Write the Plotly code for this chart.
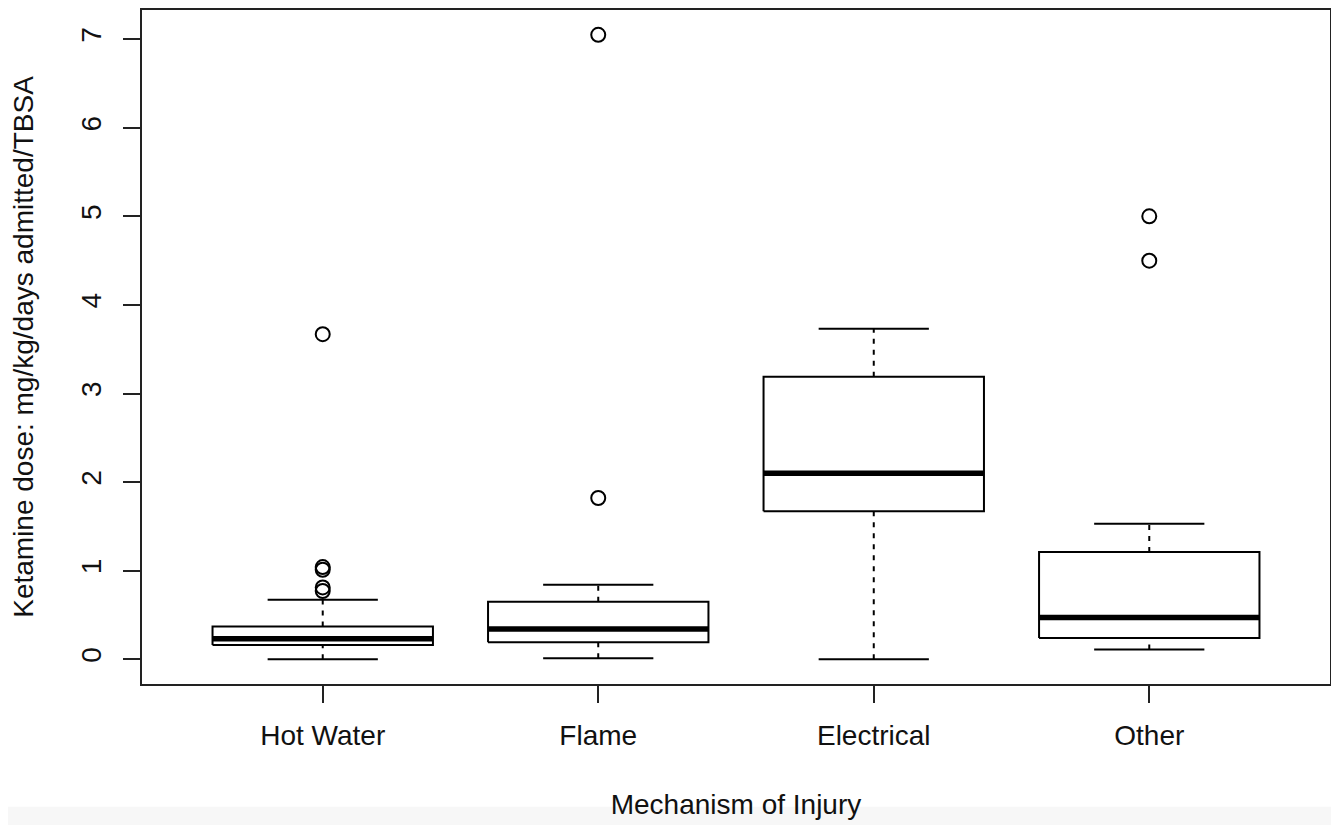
import plotly.graph_objects as go

categories = ["Hot Water", "Flame", "Electrical", "Other"]
lower_whisker = [0.0, 0.01, 0.0, 0.11]
q1 = [0.16, 0.19, 1.67, 0.24]
median = [0.23, 0.34, 2.10, 0.47]
q3 = [0.37, 0.65, 3.19, 1.21]
upper_whisker = [0.67, 0.84, 3.73, 1.53]
outliers = [[3.67, 1.04, 1.01, 0.81, 0.77], [7.05, 1.82], [], [5.0, 4.5]]

y_ticks = [0, 1, 2, 3, 4, 5, 6, 7]

BOX_HALF = 0.4
STAPLE_HALF = 0.2
positions = list(range(1, len(categories) + 1))

box_x, box_y = [], []
med_x, med_y = [], []
wh_x, wh_y = [], []
st_x, st_y = [], []
out_x, out_y = [], []
for p, lo, a, m, b, hi, outs in zip(positions, lower_whisker, q1, median, q3, upper_whisker, outliers):
    box_x += [p - BOX_HALF, p + BOX_HALF, p + BOX_HALF, p - BOX_HALF, p - BOX_HALF, None]
    box_y += [a, a, b, b, a, None]
    med_x += [p - BOX_HALF, p + BOX_HALF, None]
    med_y += [m, m, None]
    wh_x += [p, p, None, p, p, None]
    wh_y += [lo, a, None, b, hi, None]
    st_x += [p - STAPLE_HALF, p + STAPLE_HALF, None, p - STAPLE_HALF, p + STAPLE_HALF, None]
    st_y += [lo, lo, None, hi, hi, None]
    out_x += [p] * len(outs)
    out_y += outs

fig = go.Figure()
fig.add_trace(go.Scatter(x=wh_x, y=wh_y, mode="lines",
                         line=dict(color="black", width=2, dash="5px,6px"), hoverinfo="skip"))
fig.add_trace(go.Scatter(x=st_x, y=st_y, mode="lines",
                         line=dict(color="black", width=2), hoverinfo="skip"))
fig.add_trace(go.Scatter(x=box_x, y=box_y, mode="lines",
                         line=dict(color="black", width=2), fill="toself", fillcolor="white",
                         hoverinfo="skip"))
fig.add_trace(go.Scatter(x=med_x, y=med_y, mode="lines",
                         line=dict(color="black", width=5.5), hoverinfo="skip"))
fig.add_trace(go.Scatter(x=out_x, y=out_y, mode="markers",
                         marker=dict(symbol="circle-open", size=14, color="black",
                                     line=dict(width=2, color="black"))))

font_family = "Liberation Sans, Arial, Helvetica, sans-serif"
fig.update_layout(
    width=1331, height=817,
    margin=dict(l=134, r=9, t=0, b=141),
    paper_bgcolor="white", plot_bgcolor="white",
    showlegend=False,
    font=dict(family=font_family, size=28, color="#111"),
    shapes=[dict(type="rect", xref="paper", yref="paper", x0=-0.2, x1=1.05, y0=-0.182, y1=-0.25,
                 fillcolor="#f7f7f7", line=dict(width=0), layer="below")],
)
fig.update_xaxes(
    range=[0.344, 4.656], tickmode="array", tickvals=positions, ticktext=categories,
    showline=True, mirror=True, linecolor="#222", linewidth=1.5,
    ticks="outside", ticklen=17, tickwidth=1.5, tickcolor="#222",
    showgrid=False, zeroline=False, ticklabelstandoff=9,
    title=dict(text="Mechanism of Injury", standoff=44, font=dict(size=28)),
)
fig.update_yaxes(
    range=[-0.28, 7.33], tickmode="array", tickvals=y_ticks, ticktext=[str(v) for v in y_ticks],
    tickangle=-90,
    showline=True, mirror=True, linecolor="#222", linewidth=1.5,
    ticks="outside", ticklen=17, tickwidth=1.5, tickcolor="#222",
    showgrid=False, zeroline=False, ticklabelstandoff=11,
    title=dict(text="Ketamine dose: mg/kg/days admitted/TBSA", standoff=35, font=dict(size=28)),
)

fig.write_html("out.html")
